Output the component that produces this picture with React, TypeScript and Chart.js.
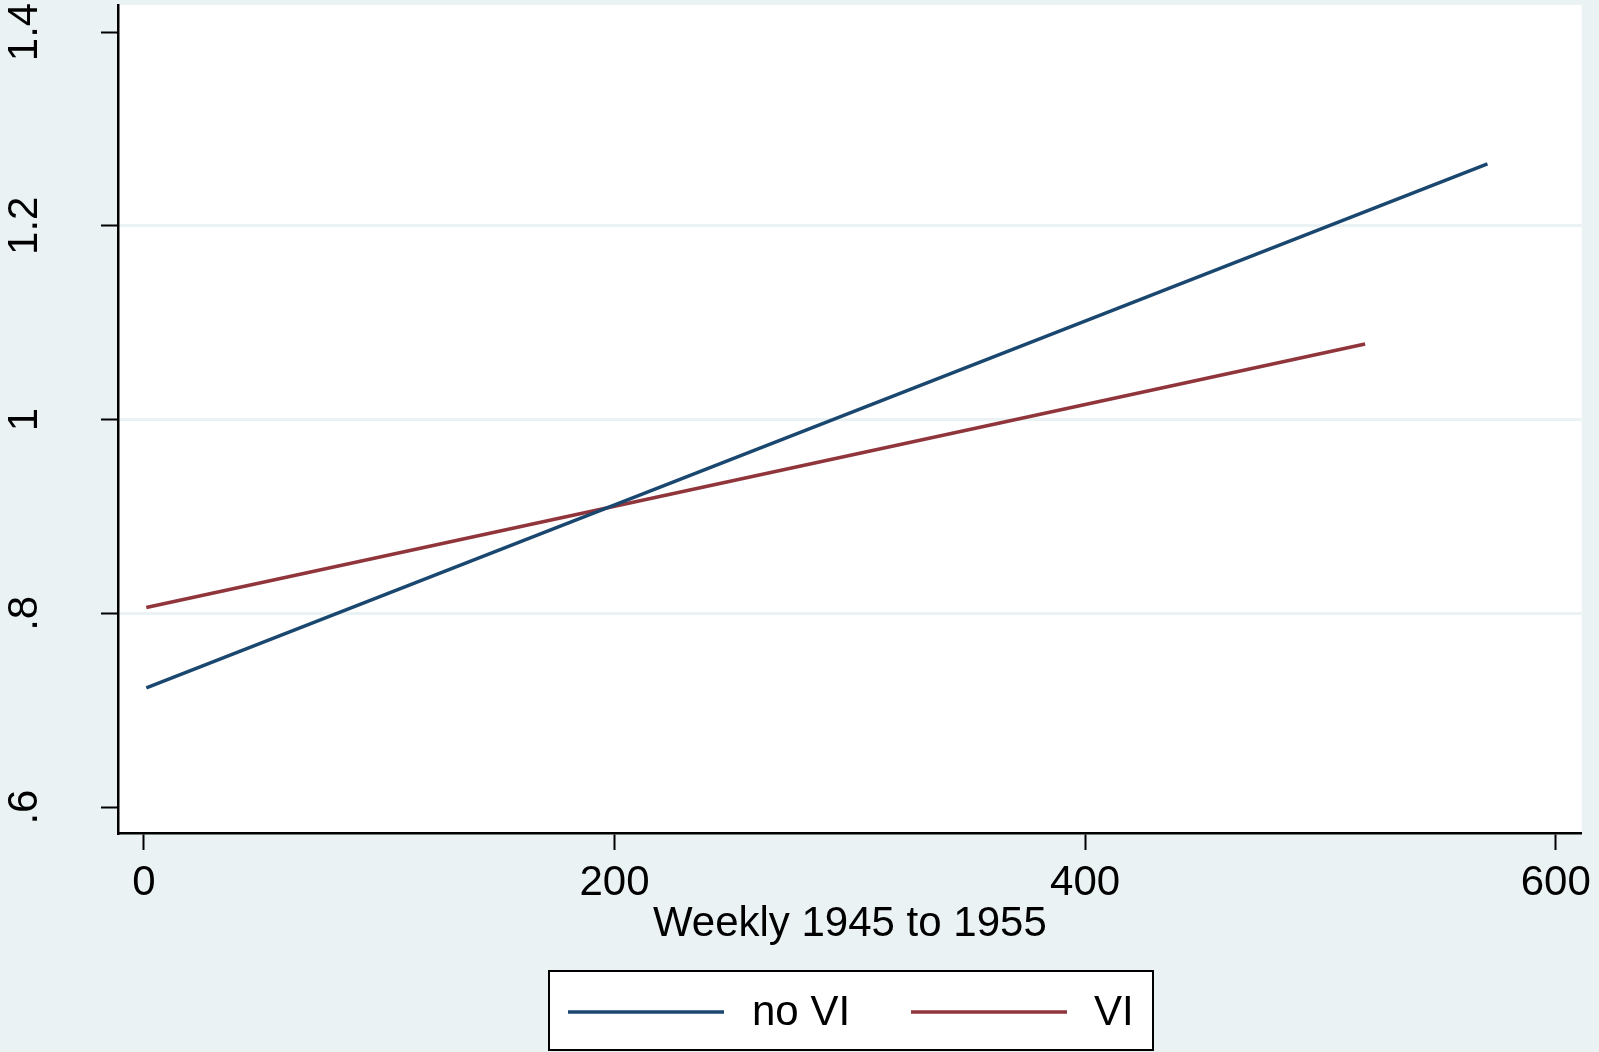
import { useEffect, useRef } from "react";
import { Chart, registerables } from "chart.js";

Chart.register(...registerables);

const xTicks = [0, 200, 400, 600];
const yTicks = [0.6, 0.8, 1, 1.2, 1.4];
const yTickLabels = [".6", ".8", "1", "1.2", "1.4"];
const seriesNames = ["no VI", "VI"];
const noViX = [1, 571];
const noViY = [0.723, 1.264];
const viX = [1, 519];
const viY = [0.806, 1.078];
const xTitle = "Weekly 1945 to 1955";

const BG = "#EAF2F3";
const NAVY = "#1A476F";
const MAROON = "#90353B";
const FONT = "'Liberation Sans', Arial, sans-serif";

const decorPlugin = {
  id: "decor",
  beforeDraw(chart: any) {
    const { ctx, chartArea } = chart;
    ctx.save();
    ctx.fillStyle = BG;
    ctx.fillRect(0, 0, chart.width, chart.height);
    ctx.fillStyle = "#FFFFFF";
    ctx.fillRect(chartArea.left, chartArea.top, chartArea.right - chartArea.left, chartArea.bottom - chartArea.top);
    ctx.restore();
  },
  afterDraw(chart: any) {
    const { ctx } = chart;
    const ys = chart.scales.y;
    ctx.save();
    ctx.fillStyle = "#000";
    ctx.font = `42px ${FONT}`;
    ctx.textAlign = "center";
    ctx.textBaseline = "middle";
    yTicks.forEach((v, i) => {
      const py = ys.getPixelForValue(v);
      ctx.save();
      ctx.translate(25, py);
      ctx.rotate(-Math.PI / 2);
      ctx.fillText(yTickLabels[i], 0, 0);
      ctx.restore();
    });
    // legend
    const bx = 549, by = 971, bw = 604, bh = 79;
    ctx.fillStyle = "#FFFFFF";
    ctx.fillRect(bx, by, bw, bh);
    ctx.strokeStyle = "#000";
    ctx.lineWidth = 2;
    ctx.strokeRect(bx, by, bw, bh);
    const items = chart.data.datasets.map((d: any) => ({ label: d.label, color: d.borderColor }));
    const lx = [568, 911];
    const tx = [752, 1094];
    const ly = 1012;
    items.forEach((it: any, i: number) => {
      ctx.strokeStyle = it.color;
      ctx.lineWidth = 3.5;
      ctx.beginPath();
      ctx.moveTo(lx[i], ly);
      ctx.lineTo(lx[i] + 156, ly);
      ctx.stroke();
      ctx.fillStyle = "#000";
      ctx.textAlign = "left";
      ctx.textBaseline = "middle";
      ctx.fillText(it.label, tx[i], ly + 1);
    });
    ctx.restore();
  },
};

export default function App() {
  const ref = useRef<HTMLCanvasElement>(null);
  useEffect(() => {
    document.body.style.margin = "0";
    document.body.style.background = BG;
    const canvas = ref.current!;
    const chart = new Chart(canvas, {
      type: "line",
      data: {
        datasets: [
          {
            label: seriesNames[0],
            data: noViX.map((x, i) => ({ x, y: noViY[i] })),
            borderColor: NAVY,
            borderWidth: 3.5,
            pointRadius: 0,
            fill: false,
            tension: 0,
          },
          {
            label: seriesNames[1],
            data: viX.map((x, i) => ({ x, y: viY[i] })),
            borderColor: MAROON,
            borderWidth: 3.5,
            pointRadius: 0,
            fill: false,
            tension: 0,
          },
        ],
      },
      options: {
        animation: false,
        responsive: false,
        layout: { padding: { top: 5, right: 15, left: 0, bottom: 102 } },
        plugins: {
          legend: { display: false },
          tooltip: { enabled: false },
        },
        scales: {
          x: {
            type: "linear",
            min: -11.03,
            max: 611.03,
            afterBuildTicks: (s: any) => {
              s.ticks = xTicks.map((v) => ({ value: v }));
            },
            afterFit: (s: any) => {
              s.height = 117;
            },
            ticks: {
              color: "#000",
              font: { family: FONT, size: 42 },
              padding: 8,
              maxRotation: 0,
              minRotation: 0,
              callback: (v: any) => String(v),
            },
            grid: {
              drawOnChartArea: false,
              drawTicks: true,
              tickLength: 17,
              tickColor: "#000",
              tickWidth: 2,
            },
            border: { display: true, color: "#000", width: 2.5 },
            title: {
              display: true,
              text: xTitle,
              color: "#000",
              font: { family: FONT, size: 42 },
              padding: { top: 0, bottom: 0 },
            },
          },
          y: {
            type: "linear",
            min: 0.5732,
            max: 1.4279,
            afterBuildTicks: (s: any) => {
              s.ticks = yTicks.map((v) => ({ value: v }));
            },
            afterFit: (s: any) => {
              s.width = 118;
            },
            ticks: { display: false },
            grid: {
              drawTicks: true,
              tickLength: 17,
              tickColor: "#000",
              tickWidth: 2,
              lineWidth: 3,
              color: (c: any) =>
                c.tick && (c.tick.value === 0.6 || c.tick.value === 1.4) ? "rgba(0,0,0,0)" : BG,
            },
            border: { display: true, color: "#000", width: 2.5 },
          },
        },
      },
      plugins: [decorPlugin],
    });
    return () => chart.destroy();
  }, []);
  return (
    <canvas
      ref={ref}
      width={1599}
      height={1052}
      style={{ display: "block", width: 1599, height: 1052 }}
    />
  );
}
